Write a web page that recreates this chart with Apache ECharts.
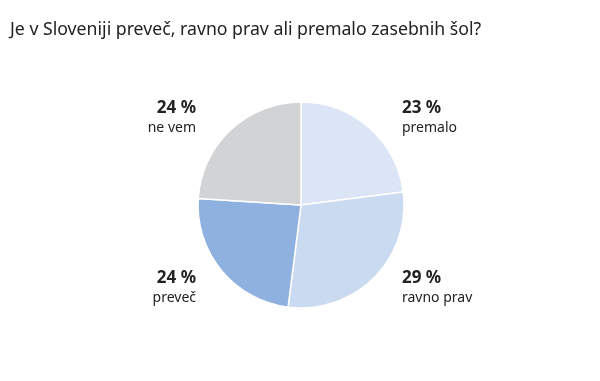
<!DOCTYPE html>
<html>
<head>
<meta charset="utf-8">
<script src="https://cdn.jsdelivr.net/npm/echarts@6/dist/echarts.min.js"></script>
<style>
html, body { margin: 0; padding: 0; background: #fff; }
#chart { width: 600px; height: 381px; }
</style>
</head>
<body>
<div id="chart"></div>
<script>
// Survey answers, clockwise from 12 o'clock
const categories = ['premalo', 'ravno prav', 'preveč', 'ne vem'];
const shares = [23, 29, 24, 24];
const sliceColors = ['#dce5f5', '#c9daf1', '#8fb1e0', '#d2d3d5'];

const FONT = '"Noto Sans", sans-serif';

// fixed label anchors: right-hand labels left-aligned, left-hand labels right-aligned
const labelAnchors = [
  { x: 402, y: 98, align: 'left' },
  { x: 402, y: 268, align: 'left' },
  { x: 196, y: 268, align: 'right' },
  { x: 196, y: 98, align: 'right' }
];

const chart = echarts.init(document.getElementById('chart'), null, { renderer: 'canvas' });

chart.setOption({
  animation: false,
  title: {
    text: 'Je v Sloveniji preveč, ravno prav ali premalo zasebnih šol?',
    left: 5,
    top: 16,
    textStyle: { fontFamily: FONT, fontSize: 17.7, fontWeight: 'normal', color: '#222' }
  },
  series: [{
    type: 'pie',
    center: [301, 205],
    radius: [0, 103],
    startAngle: 90,
    clockwise: true,
    itemStyle: { borderColor: '#ffffff', borderWidth: 1.5 },
    labelLine: { show: false },
    label: {
      show: true,
      position: 'outside',
      formatter: p => '{pct|' + p.value + ' %}\n{name|' + p.name + '}',
      rich: {
        pct: { fontFamily: FONT, fontSize: 17, fontWeight: 'bold', color: '#222', lineHeight: 21 },
        name: { fontFamily: FONT, fontSize: 14, color: '#222', lineHeight: 18 }
      }
    },
    labelLayout: p => {
      const a = labelAnchors[p.dataIndex];
      return { x: a.x, y: a.y, align: a.align, verticalAlign: 'top' };
    },
    data: categories.map((c, i) => ({
      name: c,
      value: shares[i],
      itemStyle: { color: sliceColors[i] },
      label: { align: labelAnchors[i].align, rich: {
        pct: { align: labelAnchors[i].align },
        name: { align: labelAnchors[i].align }
      } }
    }))
  }]
});
</script>
</body>
</html>
